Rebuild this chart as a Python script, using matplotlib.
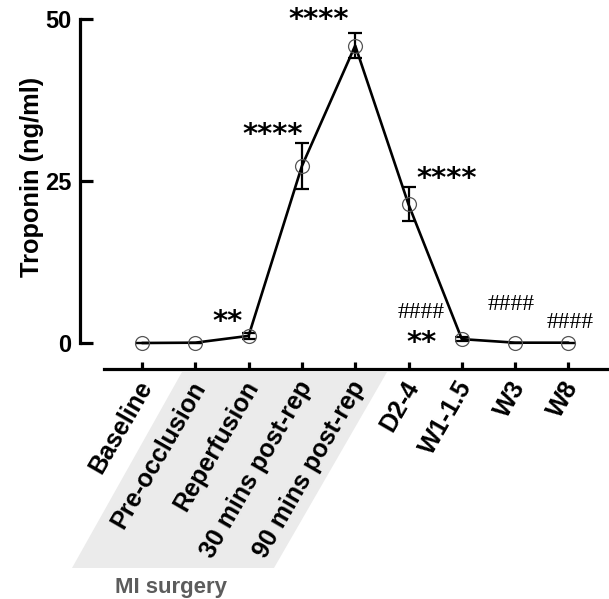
import matplotlib
matplotlib.use("Agg")
import matplotlib.pyplot as plt
from matplotlib.patches import Polygon
from matplotlib.transforms import ScaledTranslation

plt.rcParams['font.family'] = ['Liberation Sans', 'DejaVu Sans']

categories = ["Baseline", "Pre-occlusion", "Reperfusion", "30 mins post-rep",
              "90 mins post-rep", "D2-4", "W1-1.5", "W3", "W8"]
troponin = [0.0, 0.05, 1.1, 27.3, 45.9, 21.4, 0.6, 0.05, 0.05]
troponin_sem = [0.0, 0.0, 0.5, 3.5, 1.9, 2.6, 0.3, 0.0, 0.0]
y_ticks = [0, 25, 50]

W, H = 609, 599
fig = plt.figure(figsize=(W / 100, H / 100), dpi=100)
ax = fig.add_axes([0, 0, 1, 1])

# pixel mapping helpers (layout only)
SX, X0 = 53.3, 142.0
SY, Y0 = 6.48, 343.0
def dx(px):
    return (px - X0) / SX
def dy(py):
    return (Y0 - py) / SY

ax.set_xlim(dx(0), dx(W))
ax.set_ylim(dy(H), dy(0))
ax.patch.set_visible(False)

x = list(range(len(categories)))

# grey "MI surgery" parallelogram
poly = Polygon([(182 / W, 1 - 372 / H), (387 / W, 1 - 372 / H),
                (274 / W, 1 - 568 / H), (72 / W, 1 - 568 / H)],
               closed=True, transform=fig.transFigure, facecolor="#ebebeb",
               edgecolor="none", zorder=-5)
fig.patches.append(poly)
fig.text(171 / W, 1 - 587 / H, "MI surgery", color="#5c5c5c", fontsize=16,
         fontweight="bold", ha="center", va="center")

# line + error bars
ax.errorbar(x, troponin, yerr=troponin_sem, fmt="none", ecolor="black",
            elinewidth=1.6, capsize=5, capthick=1.6, zorder=3)
ax.plot(x, troponin, color="black", lw=1.9, zorder=4, solid_capstyle="round")
ax.plot(x, troponin, linestyle="none", marker="o", ms=10, mfc="none",
        mec="#555555", mew=0.9, zorder=5)

# spines
for s in ("top", "right"):
    ax.spines[s].set_visible(False)
ax.spines["left"].set_position(("data", dx(80)))
ax.spines["left"].set_bounds(0, 50)
ax.spines["left"].set_linewidth(2.3)
ax.spines["bottom"].set_position(("data", dy(369)))
ax.spines["bottom"].set_bounds(dx(104), dx(607))
ax.spines["bottom"].set_linewidth(2.3)

ax.set_yticks(y_ticks)
ax.set_yticklabels([str(v) for v in y_ticks], fontsize=17, fontweight="bold")
ax.tick_params(axis="y", direction="in", length=9.5, width=2.3, pad=6)
ax.set_xticks(x)
ax.set_xticklabels(categories, fontsize=18, fontweight="bold", rotation=60,
                   ha="right", va="top", rotation_mode="anchor")
ax.tick_params(axis="x", direction="in", length=5, width=2.3, pad=5)
shift = ScaledTranslation(-6 / 100, -1 / 100, fig.dpi_scale_trans)
for lab in ax.get_xticklabels():
    lab.set_transform(lab.get_transform() + shift)

ax.set_ylabel("Troponin (ng/ml)", fontsize=18.3, fontweight="bold", va="center")
ax.yaxis.set_label_coords(32 / W, 1 - 177 / H)

# significance annotations
star_kw = dict(fontsize=21, fontweight="bold", family="DejaVu Sans",
               ha="center", va="center")
hash_kw = dict(fontsize=17, family="Liberation Serif", ha="center", va="center")
ax.text(dx(228), dy(322), "**", **star_kw)
ax.text(dx(273), dy(135), "****", **star_kw)
ax.text(dx(319), dy(20), "****", **star_kw)
ax.text(dx(447), dy(179), "****", **star_kw)
ax.text(dx(422), dy(343), "**", **star_kw)
ax.text(dx(421), dy(312), "####", **hash_kw)
ax.text(dx(511), dy(304), "####", **hash_kw)
ax.text(dx(570), dy(322), "####", **hash_kw)

fig.savefig("out.png", dpi=100)
